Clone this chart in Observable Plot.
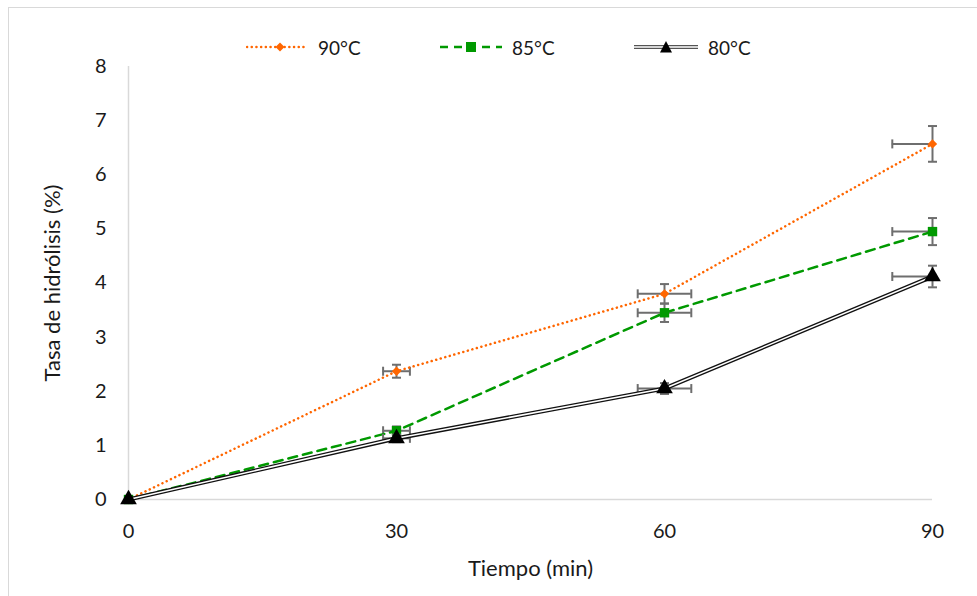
<!DOCTYPE html>
<html>
<head>
<meta charset="utf-8">
<script src="https://cdn.jsdelivr.net/npm/d3@7"></script>
<script src="https://cdn.jsdelivr.net/npm/@observablehq/plot@0.6"></script>
<style>
  html, body { margin: 0; padding: 0; background: #fff; }
  #wrap { position: relative; width: 977px; height: 596px; overflow: hidden; font-family: Lato, "Open Sans", sans-serif; color: #1a1a1a; }
  #frame { position: absolute; left: 8px; top: 7px; width: 1000px; height: 700px; border-left: 1.5px solid #d9d9d9; border-top: 1.5px solid #d9d9d9; }
  #chart { position: absolute; left: 0; top: 0; }
  .leg { position: absolute; top: 35px; height: 24px; display: flex; align-items: center; font-size: 19px; }
  .leg svg { display: block; margin-right: 10px; }
</style>
</head>
<body>
<div id="wrap">
  <div id="frame"></div>
  <div id="chart"></div>
  <div class="leg" style="left:246px">
    <svg width="62" height="16"><line x1="1" y1="8" x2="61" y2="8" stroke="#ff6600" stroke-width="2.5" stroke-dasharray="0.1 4.6" stroke-linecap="round"/><path d="M34,3.5 L38.5,8 L34,12.5 L29.5,8 Z" fill="#ff6600"/></svg><span>90°C</span>
  </div>
  <div class="leg" style="left:440px">
    <svg width="62" height="16"><line x1="0" y1="8" x2="62" y2="8" stroke="#009900" stroke-width="2.5" stroke-dasharray="8 6"/><rect x="26" y="3" width="10" height="10" fill="#009900"/></svg><span>85°C</span>
  </div>
  <div class="leg" style="left:634px">
    <svg width="64" height="16"><line x1="0" y1="8" x2="64" y2="8" stroke="#555" stroke-width="4"/><line x1="0" y1="8" x2="64" y2="8" stroke="#fff" stroke-width="1.6"/><path d="M32,2 L38,13.5 L26,13.5 Z" fill="#000"/></svg><span>80°C</span>
  </div>
</div>
<script>
// Reaction time (min) and hydrolysis rate (%) for each temperature
const tiempos = [0, 30, 60, 90];
const tasa90 = [0, 2.37, 3.80, 6.57];
const tasa85 = [0, 1.27, 3.45, 4.95];
const tasa80 = [0, 1.13, 2.05, 4.12];
// Standard deviations of the rate
const desv90 = [0, 0.12, 0.18, 0.33];
const desv85 = [0, 0.08, 0.17, 0.25];
const desv80 = [0, 0.07, 0.10, 0.20];
// Horizontal error on time (min)
const errTiempo = [0, 1.5, 3, 4.5];
const yTicks = [0, 1, 2, 3, 4, 5, 6, 7, 8];

const series = [
  {name: "90°C", y: tasa90, e: desv90},
  {name: "85°C", y: tasa85, e: desv85},
  {name: "80°C", y: tasa80, e: desv80}
];
const rows = {};
for (const s of series) {
  rows[s.name] = tiempos.map((t, i) => ({t, v: s.y[i], e: s.e[i], ex: errTiempo[i]}));
}
const conErr = name => rows[name].filter(d => d.e > 0 || d.ex > 0);

// Error bar caps drawn as short pixel-length strokes
const capH = {draw(ctx, size) { const r = Math.sqrt(size / Math.PI); ctx.moveTo(-r, 0); ctx.lineTo(r, 0); }};
const capV = {draw(ctx, size) { const r = Math.sqrt(size / Math.PI); ctx.moveTo(0, -r); ctx.lineTo(0, r); }};
const errColor = "#6e6e6e";

function barras(name) {
  const d = conErr(name);
  return [
    Plot.ruleY(d, {y: "v", x1: d => d.t - d.ex, x2: d => d.t + d.ex, stroke: errColor, strokeWidth: 2, clip: true}),
    Plot.dot(d, {x: d => d.t - d.ex, y: "v", symbol: capV, r: 4.5, stroke: errColor, strokeWidth: 2, fill: "none", clip: true}),
    Plot.dot(d, {x: d => d.t + d.ex, y: "v", symbol: capV, r: 4.5, stroke: errColor, strokeWidth: 2, fill: "none", clip: true}),
    Plot.ruleX(d, {x: "t", y1: d => d.v - d.e, y2: d => d.v + d.e, stroke: errColor, strokeWidth: 2}),
    Plot.dot(d, {x: "t", y: d => d.v - d.e, symbol: capH, r: 4.5, stroke: errColor, strokeWidth: 2, fill: "none"}),
    Plot.dot(d, {x: "t", y: d => d.v + d.e, symbol: capH, r: 4.5, stroke: errColor, strokeWidth: 2, fill: "none"})
  ];
}

const chart = Plot.plot({
  width: 977,
  height: 596,
  marginTop: 66,
  marginBottom: 97,
  marginLeft: 128,
  marginRight: 45,
  style: {fontFamily: "Lato, 'Open Sans', sans-serif", fontSize: "20px", color: "#1a1a1a", background: "transparent"},
  x: {domain: [0, 90]},
  y: {domain: [0, 8]},
  marks: [
    Plot.ruleX([0], {stroke: "#d9d9d9", strokeWidth: 1.5}),
    Plot.ruleY([0], {stroke: "#d9d9d9", strokeWidth: 1.5}),
    // tick labels
    Plot.axisY({ticks: yTicks, tickSize: 0, tickPadding: 22, tickFormat: d => d, fontSize: 20, label: null}),
    Plot.axisX({ticks: tiempos, tickSize: 0, tickPadding: 24, tickFormat: d => d, fontSize: 20, label: null}),
    // axis titles
    Plot.axisY({ticks: [], tickSize: 0, fontSize: 22, label: "Tasa de hidrólisis (%)", labelAnchor: "center", labelArrow: false, labelOffset: 84}),
    Plot.axisX({ticks: [], tickSize: 0, fontSize: 22, label: "Tiempo (min)", labelAnchor: "center", labelArrow: false, labelOffset: 76}),
    // 90 °C
    ...barras("90°C"),
    Plot.line(rows["90°C"], {x: "t", y: "v", stroke: "#ff6600", strokeWidth: 2.5, strokeDasharray: "0.1 4.6", strokeLinecap: "round"}),
    Plot.dot(rows["90°C"], {x: "t", y: "v", symbol: "diamond2", r: 4.2, fill: "#ff6600"}),
    // 85 °C
    ...barras("85°C"),
    Plot.line(rows["85°C"], {x: "t", y: "v", stroke: "#009900", strokeWidth: 2.5, strokeDasharray: "9 6"}),
    Plot.dot(rows["85°C"], {x: "t", y: "v", symbol: "square", r: 5.3, fill: "#009900"}),
    // 80 °C, double line
    ...barras("80°C"),
    Plot.line(rows["80°C"], {x: "t", y: "v", stroke: "#111", strokeWidth: 4.2}),
    Plot.line(rows["80°C"], {x: "t", y: "v", stroke: "#fff", strokeWidth: 1.5}),
    Plot.dot(rows["80°C"], {x: "t", y: "v", symbol: "triangle", r: 6.2, fill: "#000"})
  ]
});
document.getElementById("chart").appendChild(chart);
</script>
</body>
</html>
